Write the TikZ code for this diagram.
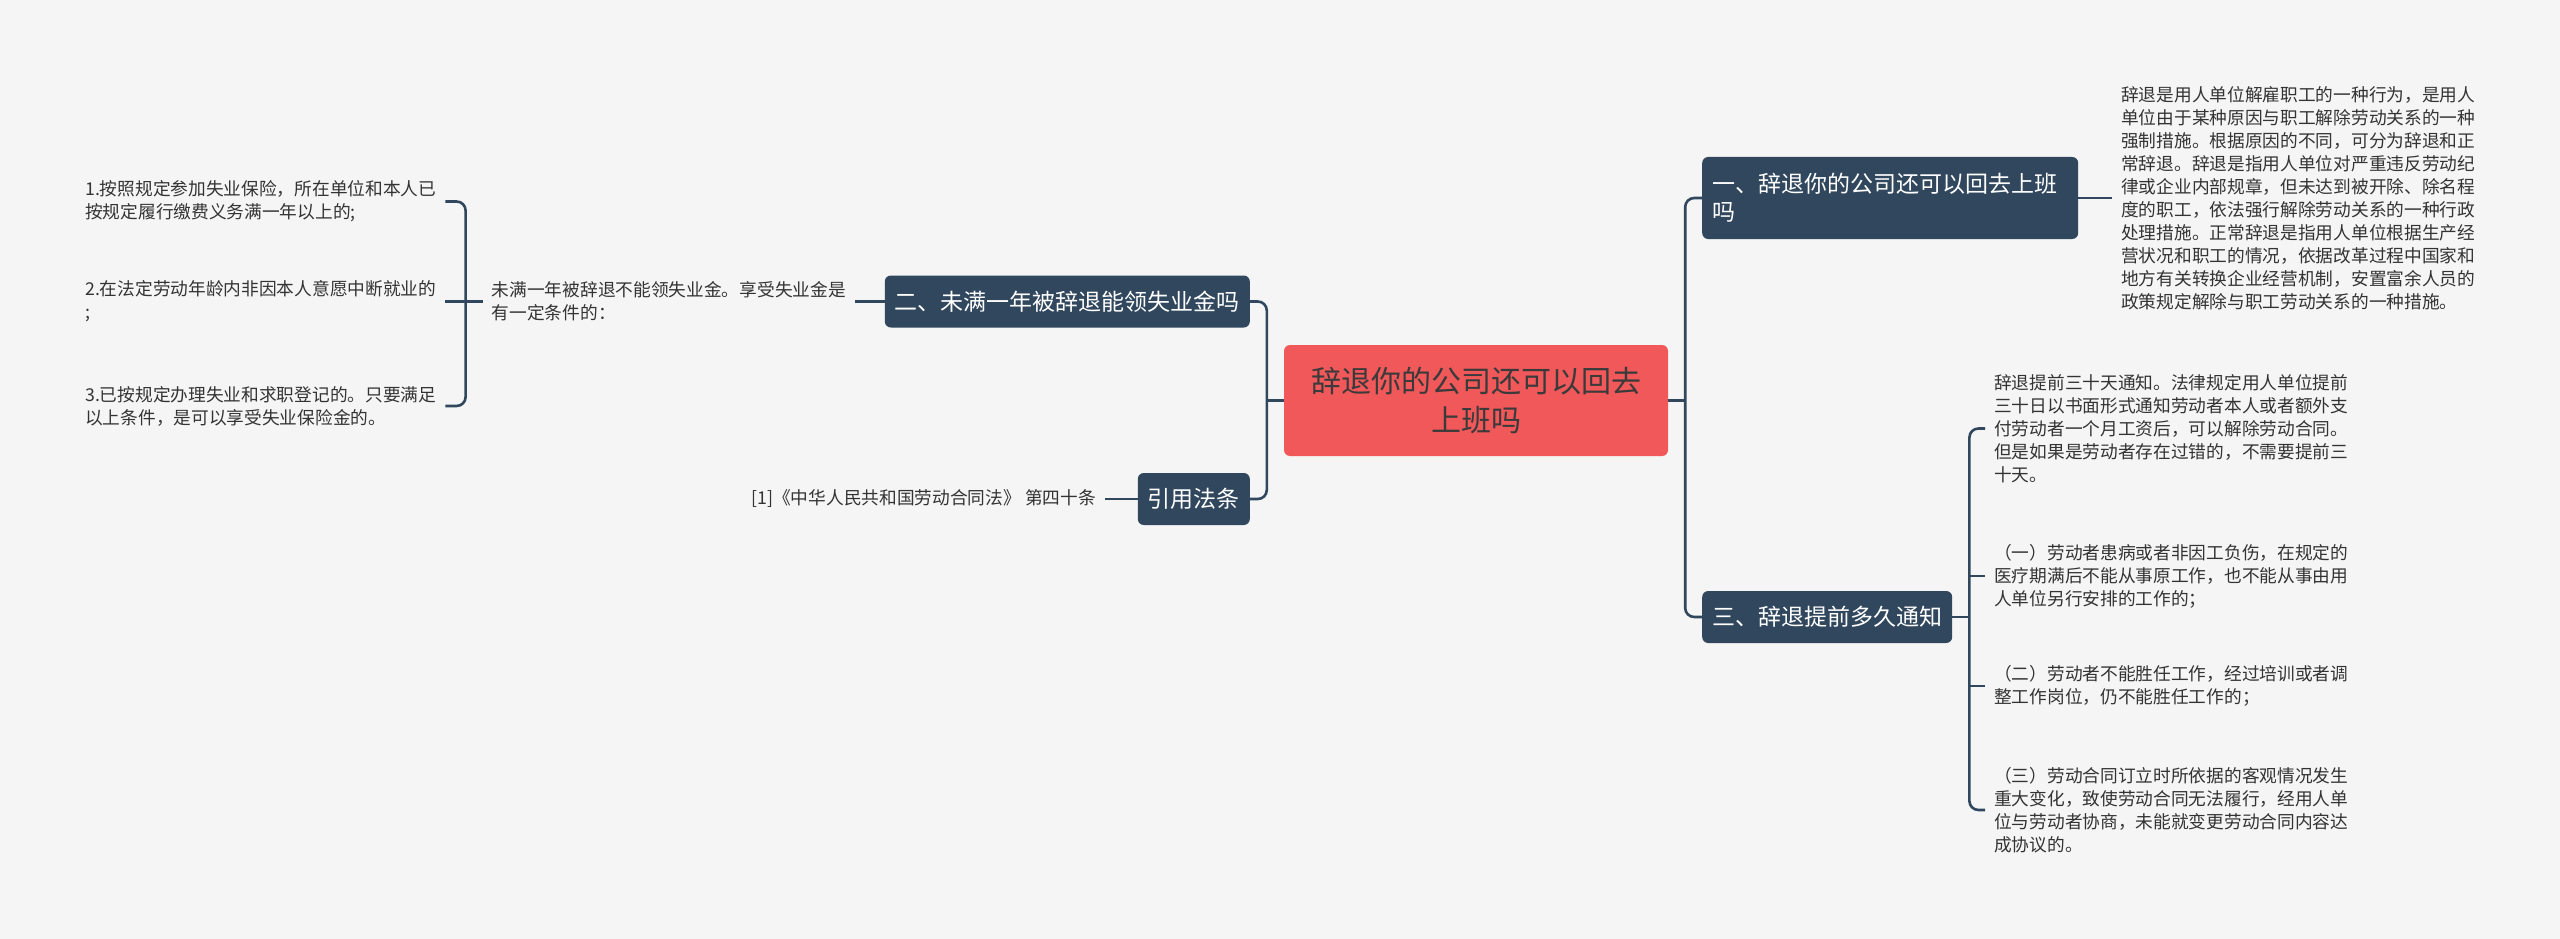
\documentclass[tikz,border=0pt]{standalone}
\usepackage{fontspec}
\setmainfont{Noto Sans CJK SC}
\usetikzlibrary{positioning}
\definecolor{mmnavy}{HTML}{30475E}
\definecolor{mmred}{HTML}{F0585A}
\definecolor{mmbg}{HTML}{F5F5F5}
\definecolor{mmtext}{HTML}{333333}
\definecolor{mmroot}{HTML}{3A3A3A}

\begin{document}
\begin{tikzpicture}[x=1pt, y=-1pt,
    branch/.style={fill=mmnavy, text=white, rounded corners=6pt, inner xsep=10pt, inner ysep=0pt, minimum height=52pt, font=\fontsize{23pt}{28pt}\selectfont},
    leaf/.style={inner xsep=9pt, inner ysep=0pt, align=left, text=mmtext, font=\fontsize{17.7pt}{23pt}\selectfont},
    conn/.style={draw=mmnavy, line width=2.6pt, rounded corners=9pt}]
  \fill[mmbg] (0,0) rectangle (2560,939);
  \useasboundingbox (0,0) rectangle (2560,939);

  % root
  \node[fill=mmred, rounded corners=6pt, text=mmroot, align=center, text width=330pt, minimum width=384pt, minimum height=111pt, inner sep=0pt, font=\fontsize{30pt}{39pt}\selectfont] (root) at (1476,400.5) {辞退你的公司还可以回去\\上班吗};

  % right branches
  \node[branch, text width=356pt, align=left, minimum height=82pt, anchor=west] (b1) at (1702,198) {一、辞退你的公司还可以回去上班\\吗};
  \node[branch, anchor=west] (b3) at (1702,617) {三、辞退提前多久通知};
  \node[leaf, anchor=west] (d1) at (2112,198) {辞退是用人单位解雇职工的一种行为，是用人\\单位由于某种原因与职工解除劳动关系的一种\\强制措施。根据原因的不同，可分为辞退和正\\常辞退。辞退是指用人单位对严重违反劳动纪\\律或企业内部规章，但未达到被开除、除名程\\度的职工，依法强行解除劳动关系的一种行政\\处理措施。正常辞退是指用人单位根据生产经\\营状况和职工的情况，依据改革过程中国家和\\地方有关转换企业经营机制，安置富余人员的\\政策规定解除与职工劳动关系的一种措施。};
  \node[leaf, anchor=west] (t1) at (1985,428.5) {辞退提前三十天通知。法律规定用人单位提前\\三十日以书面形式通知劳动者本人或者额外支\\付劳动者一个月工资后，可以解除劳动合同。\\但是如果是劳动者存在过错的，不需要提前三\\十天。};
  \node[leaf, anchor=west] (t2) at (1985,576) {（一）劳动者患病或者非因工负伤，在规定的\\医疗期满后不能从事原工作，也不能从事由用\\人单位另行安排的工作的；};
  \node[leaf, anchor=west] (t3) at (1985,686) {（二）劳动者不能胜任工作，经过培训或者调\\整工作岗位，仍不能胜任工作的；};
  \node[leaf, anchor=west] (t4) at (1985,810) {（三）劳动合同订立时所依据的客观情况发生\\重大变化，致使劳动合同无法履行，经用人单\\位与劳动者协商，未能就变更劳动合同内容达\\成协议的。};

  % left branches
  \node[branch, anchor=east] (b2) at (1250,301.5) {二、未满一年被辞退能领失业金吗};
  \node[branch, anchor=east] (law) at (1250,499) {引用法条};
  \node[leaf, anchor=east] (cond) at (855,301.5) {未满一年被辞退不能领失业金。享受失业金是\\有一定条件的：};
  \node[leaf, anchor=east] (ref) at (1105,499) {[1]《中华人民共和国劳动合同法》 第四十条};
  \node[leaf, anchor=west] (c1) at (76,201.5) {1.按照规定参加失业保险，所在单位和本人已\\按规定履行缴费义务满一年以上的;};
  \node[leaf, anchor=west] (c2) at (76,301.5) {2.在法定劳动年龄内非因本人意愿中断就业的\\;};
  \node[leaf, anchor=west] (c3) at (76,406) {3.已按规定办理失业和求职登记的。只要满足\\以上条件，是可以享受失业保险金的。};

  \coordinate[right=17pt of root] (rj);
  \coordinate[left=17pt of root] (lj);
  \coordinate[right=17pt of b3] (tj);
  \coordinate[left=17pt of cond] (cj);

  \draw[conn] (root.east) -- (rj);
  \draw[conn] (b1.west) -| (rj) |- (b3.west);
  \draw[conn] (b1.east) -- (d1.west);
  \draw[conn] (b3.east) -- (tj);
  \draw[conn] (t1.west) -| (tj) |- (t4.west);
  \draw[conn] (t2.west) -- (t2.west -| tj);
  \draw[conn] (t3.west) -- (t3.west -| tj);

  \draw[conn] (root.west) -- (lj);
  \draw[conn] (b2.east) -| (lj) |- (law.east);
  \draw[conn] (b2.west) -- (cond.east);
  \draw[conn] (law.west) -- (ref.east);
  \draw[conn] (cond.west) -- (cj);
  \draw[conn] (c1.east) -| (cj) |- (c3.east);
  \draw[conn] (c2.east) -- (cj);
\end{tikzpicture}
\end{document}
